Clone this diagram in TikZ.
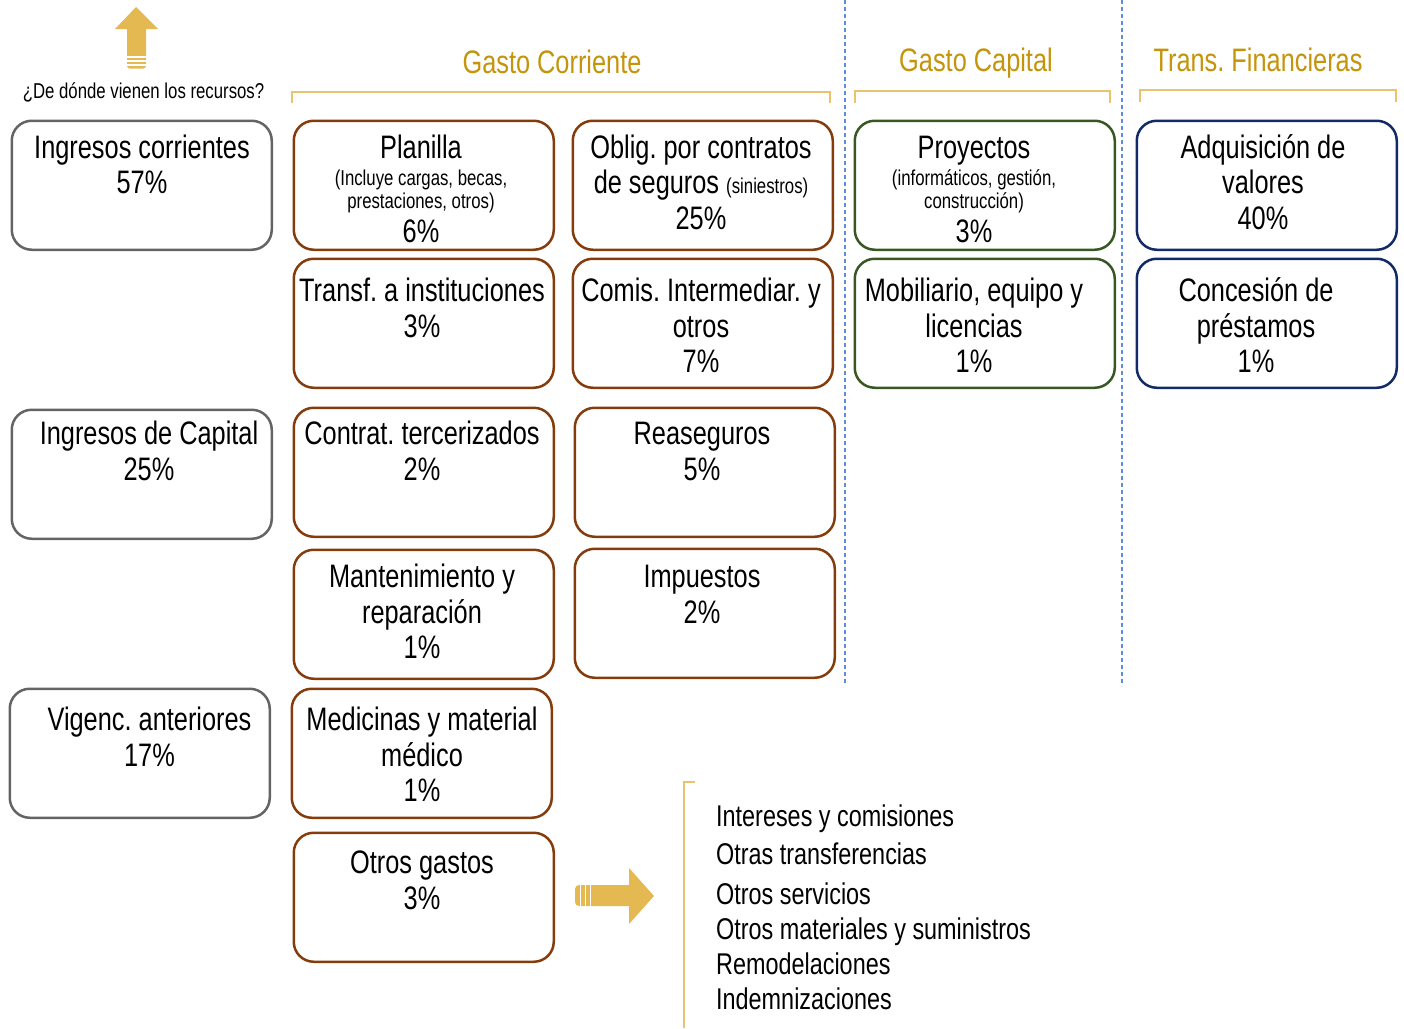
\documentclass[tikz,border=0pt]{standalone}
\usepackage{fontspec}
\setmainfont{Liberation Sans}[FakeStretch=0.78]
\definecolor{grayb}{RGB}{100,100,100}
\definecolor{brownb}{RGB}{133,60,12}
\definecolor{greenb}{RGB}{56,87,35}
\definecolor{navyb}{RGB}{18,42,102}
\definecolor{goldt}{RGB}{196,148,10}
\definecolor{goldl}{RGB}{232,196,110}
\definecolor{arrowc}{RGB}{228,185,82}
\definecolor{dashb}{RGB}{95,140,220}
\newcommand\bigf{\frenchspacing\fontsize{32.5}{35.5}\selectfont}
\newcommand\smf{\frenchspacing\fontsize{21.5}{23}\selectfont}
\newcommand\listf{\frenchspacing\fontsize{30}{36}\selectfont}
\newcommand\fr{\rule{0pt}{25pt}}
\begin{document}
\frenchspacing
\begin{tikzpicture}[x=1pt,y=-1pt,
  cbox/.style={draw, rounded corners=20pt, line width=2.5pt, minimum width=260pt, minimum height=129pt, inner sep=0pt, anchor=north west},
  graybox/.style={cbox, draw=grayb},
  brownbox/.style={cbox, draw=brownb},
  greenbox/.style={cbox, draw=greenb},
  navybox/.style={cbox, draw=navyb},
  txt/.style={anchor=north, inner sep=0pt, align=center, font=\bigf},
  head/.style={anchor=base, inner sep=0pt, font=\bigf, text=goldt},
  item/.style={anchor=base west, inner sep=0pt, font=\listf},
  brk/.style={draw=goldl, line width=1.4pt},
  sep/.style={draw=dashb, line width=1.4pt, dash pattern=on 4pt off 3pt}
]
\useasboundingbox (0,0) rectangle (1404,1028);

% separators
\coordinate (s1t) at (845,0); \coordinate (s1b) at (845,684);
\coordinate (s2t) at (1122,0); \coordinate (s2b) at (1122,686);
\draw[sep] (s1t) -- (s1b);
\draw[sep] (s2t) -- (s2b);

% headers
\node[head] (hgc) at (552,73.5) {Gasto Corriente};
\node[head] (hgk) at (976,71.5) {Gasto Capital};
\node[head] (htf) at (1258,71.5) {Trans. Financieras};
\draw[brk] (292,103) -- (292,92) -- (830,92) -- (830,103);
\draw[brk] (855,103) -- (855,91) -- (1110,91) -- (1110,103);
\draw[brk] (1140,102) -- (1140,90) -- (1396,90) -- (1396,102);

% up arrow and question
\fill[arrowc] (136,7) -- (158,29) -- (146,29) -- (146,66) to[out=-90,in=0] (143,68.5) -- (130,68.5) to[out=180,in=-90] (127,66) -- (127,29) -- (115,29) -- cycle;
\foreach \yy in {57,61,65} \draw[white, line width=1.2pt] (126,\yy) -- (147,\yy);
\node[anchor=base, inner sep=0pt, font=\smf] (q) at (143.5,98) {¿De dónde vienen los recursos?};

% source boxes
\node[graybox] (ic) at (10.5,119.5) {};
\node[graybox] (icap) at (10.5,408.5) {};
\node[graybox] (va) at (8.5,687.5) {};
\node[txt] (tic) at (142,133) {\fr Ingresos corrientes\\57\%};
\node[txt] (ticap) at (149,419.5) {\fr Ingresos de Capital\\25\%};
\node[txt] (tva) at (149.5,705.5) {\fr Vigenc. anteriores\\17\%};

% gasto corriente col 1
\node[brownbox] (pl) at (292.5,119.5) {};
\node[brownbox] (tr) at (292.5,257.5) {};
\node[brownbox] (ct) at (292.5,406.5) {};
\node[brownbox] (mt) at (292.5,548.5) {};
\node[brownbox] (md) at (290.5,687.5) {};
\node[brownbox] (og) at (292.5,831.5) {};
\node[txt] (tpl) at (421,133) {\fr Planilla\\[-8.5pt]{\smf (Incluye cargas, becas,}\\[-12.5pt]{\smf prestaciones, otros)}\\[-1.5pt]6\%};
\node[txt] (ttr) at (422,276.5) {\fr Transf. a instituciones\\3\%};
\node[txt] (tct) at (422,419.5) {\fr Contrat. tercerizados\\2\%};
\node[txt] (tmt) at (422,562.5) {\fr Mantenimiento y\\reparación\\1\%};
\node[txt] (tmd) at (422,705.5) {\fr Medicinas y material\\médico\\1\%};
\node[txt] (tog) at (422,848.5) {\fr Otros gastos\\3\%};

% gasto corriente col 2
\node[brownbox] (ob) at (571.5,119.5) {};
\node[brownbox] (cm) at (571.5,257.5) {};
\node[brownbox] (rs) at (573.5,406.5) {};
\node[brownbox] (im) at (573.5,547.5) {};
\node[txt] (tob) at (701,133) {\fr Oblig. por contratos\\de seguros {\smf (siniestros)}\\25\%};
\node[txt] (tcm) at (701,276.5) {\fr Comis. Intermediar. y\\otros\\7\%};
\node[txt] (trs) at (702,419.5) {\fr Reaseguros\\5\%};
\node[txt] (tim) at (702,562.5) {\fr Impuestos\\2\%};

% gasto capital
\node[greenbox] (pr) at (853.5,119.5) {};
\node[greenbox] (mb) at (853.5,257.5) {};
\node[txt] (tpr) at (974,133) {\fr Proyectos\\[-8.5pt]{\smf (informáticos, gestión,}\\[-12.5pt]{\smf construcción)}\\[-1.5pt]3\%};
\node[txt] (tmb) at (974,276.5) {\fr Mobiliario, equipo y\\licencias\\1\%};

% transacciones financieras
\node[navybox] (aq) at (1135.5,119.5) {};
\node[navybox] (cc) at (1135.5,257.5) {};
\node[txt] (taq) at (1263,133) {\fr Adquisición de\\valores\\40\%};
\node[txt] (tcc) at (1256,276.5) {\fr Concesión de\\préstamos\\1\%};

% right arrow
\fill[arrowc] (654,896) -- (629,868) -- (629,885) -- (579,885) to[out=180,in=90] (575,889) -- (575,902) to[out=-90,in=180] (579,906) -- (629,906) -- (629,924) -- cycle;
\foreach \xx in {580.5,585.5,590.5} \draw[white, line width=1.2pt] (\xx,884) -- (\xx,907);

% bottom bracket and list
\draw[brk] (695,782) -- (684,782) -- (684,1028);
\node[item] (l1) at (716,826) {Intereses y comisiones};
\node[item] (l2) at (716,864) {Otras transferencias};
\node[item] (l3) at (716,904) {Otros servicios};
\node[item] (l4) at (716,939) {Otros materiales y suministros};
\node[item] (l5) at (716,974) {Remodelaciones};
\node[item] (l6) at (716,1009) {Indemnizaciones};
\end{tikzpicture}
\end{document}
